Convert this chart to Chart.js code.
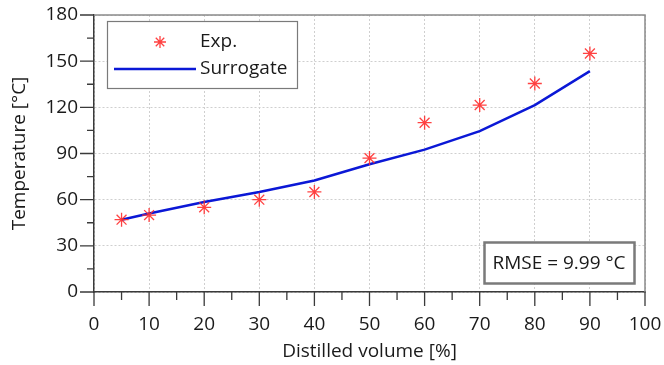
<!DOCTYPE html>
<html>
<head>
<meta charset="utf-8">
<script src="https://cdn.jsdelivr.net/npm/chart.js@4/dist/chart.umd.min.js"></script>
<style>
  html, body { margin: 0; padding: 0; background: #fff; }
  #wrap { width: 664px; height: 365px; }
</style>
</head>
<body>
<div id="wrap"><canvas id="chart" width="664" height="365"></canvas></div>
<script>
// Data
const volumes = [5, 10, 20, 30, 40, 50, 60, 70, 80, 90];
const expTemps = [47, 50, 55, 60, 65, 87, 110, 121.5, 135.5, 155];
const surrogateTemps = [47, 51, 58.5, 65, 72.5, 83, 92.5, 104.5, 121.5, 143.5];
const xTicks = [0, 10, 20, 30, 40, 50, 60, 70, 80, 90, 100];
const yTicks = [0, 30, 60, 90, 120, 150, 180];
const rmseText = 'RMSE = 9.99 °C';

const FONT = "'Open Sans', sans-serif";
const AXIS_COLOR = '#3a3a3a';
const EXP_COLOR = 'rgba(255, 45, 45, 0.9)';
const SURR_COLOR = '#0b18d6';

// draws the 8-armed star used for the Exp. markers
function drawStar(ctx, x, y, r) {
    ctx.save();
    ctx.strokeStyle = EXP_COLOR;
    ctx.lineWidth = 1.3;
    ctx.beginPath();
    for (let i = 0; i < 4; i++) {
        const a = i * Math.PI / 4;
        ctx.moveTo(x - r * Math.cos(a), y - r * Math.sin(a));
        ctx.lineTo(x + r * Math.cos(a), y + r * Math.sin(a));
    }
    ctx.stroke();
    ctx.restore();
}

// outward major/minor tick marks, top/right frame, legend and RMSE box
const decorations = {
    id: 'decorations',
    afterDraw(chart) {
        const ctx = chart.ctx;
        const area = chart.chartArea;
        const xs = chart.scales.x;
        const ys = chart.scales.y;

        ctx.save();
        // top and right frame
        ctx.strokeStyle = '#8a8a8a';
        ctx.lineWidth = 1.5;
        ctx.beginPath();
        ctx.moveTo(area.left, area.top);
        ctx.lineTo(area.right, area.top);
        ctx.lineTo(area.right, area.bottom);
        ctx.stroke();

        // tick marks
        ctx.strokeStyle = AXIS_COLOR;
        ctx.lineWidth = 1.3;
        ctx.beginPath();
        for (let v = 0; v <= 100; v += 5) {
            const px = xs.getPixelForValue(v);
            const len = v % 10 === 0 ? 14 : 8;
            ctx.moveTo(px, area.bottom);
            ctx.lineTo(px, area.bottom + len);
        }
        for (let v = 0; v <= 180; v += 15) {
            const py = ys.getPixelForValue(v);
            const len = v % 30 === 0 ? 14 : 7;
            ctx.moveTo(area.left, py);
            ctx.lineTo(area.left - len, py);
        }
        ctx.stroke();

        // legend box
        const lx = area.left + 13, ly = area.top + 6, lw = 190, lh = 67;
        ctx.fillStyle = '#fff';
        ctx.fillRect(lx, ly, lw, lh);
        ctx.strokeStyle = '#7a7a7a';
        ctx.lineWidth = 1.2;
        ctx.strokeRect(lx + 0.5, ly + 0.5, lw, lh);

        drawStar(ctx, lx + 53, ly + 21, 6);
        ctx.strokeStyle = SURR_COLOR;
        ctx.lineWidth = 2.5;
        ctx.beginPath();
        ctx.moveTo(lx + 7, ly + 48);
        ctx.lineTo(lx + 89, ly + 48);
        ctx.stroke();

        ctx.fillStyle = '#1a1a1a';
        ctx.font = '19px ' + FONT;
        ctx.textAlign = 'left';
        ctx.textBaseline = 'middle';
        ctx.fillText(chart.data.datasets[0].label, lx + 93, ly + 21);
        ctx.fillText(chart.data.datasets[1].label, lx + 93, ly + 48);

        // RMSE box
        const bx = area.right - 161, by = area.bottom - 50, bw = 150, bh = 41;
        ctx.fillStyle = '#fff';
        ctx.fillRect(bx, by, bw, bh);
        ctx.strokeStyle = '#7a7a7a';
        ctx.strokeRect(bx + 0.5, by + 0.5, bw, bh);
        ctx.fillStyle = '#1a1a1a';
        ctx.textAlign = 'center';
        ctx.fillText(rmseText, bx + bw / 2, by + bh / 2 + 1);
        ctx.restore();
    }
};

const ctx = document.getElementById('chart').getContext('2d');
const chart = new Chart(ctx, {
    type: 'line',
    data: {
        datasets: [
            {
                label: 'Exp.',
                data: volumes.map((v, i) => ({ x: v, y: expTemps[i] })),
                showLine: false,
                pointStyle: 'star',
                pointRadius: 7,
                pointBorderWidth: 1.3,
                pointBorderColor: EXP_COLOR,
                borderColor: EXP_COLOR,
                order: 0
            },
            {
                label: 'Surrogate',
                data: volumes.map((v, i) => ({ x: v, y: surrogateTemps[i] })),
                borderColor: SURR_COLOR,
                borderWidth: 2.5,
                pointRadius: 0,
                tension: 0,
                fill: false,
                order: 1
            }
        ]
    },
    options: {
        responsive: false,
        animation: false,
        layout: { padding: { top: 15, right: 19, left: 0, bottom: 0 } },
        plugins: {
            legend: { display: false },
            tooltip: { enabled: false }
        },
        scales: {
            x: {
                type: 'linear',
                min: 0,
                max: 100,
                afterBuildTicks: scale => { scale.ticks = xTicks.map(v => ({ value: v })); },
                afterFit: scale => {
                    scale.height = 73;
                    scale.paddingLeft = 0;
                    scale.paddingRight = 0;
                },
                ticks: { color: '#1a1a1a', font: { family: FONT, size: 19 }, padding: 21, maxRotation: 0 },
                grid: { color: '#cfcfcf', lineWidth: 1, drawTicks: false },
                border: { color: AXIS_COLOR, width: 1.5, dash: [2, 2] },
                title: {
                    display: true,
                    text: 'Distilled volume [%]',
                    color: '#1a1a1a',
                    font: { family: FONT, size: 19 },
                    padding: { top: 0, bottom: 2 }
                }
            },
            y: {
                type: 'linear',
                min: 0,
                max: 180,
                afterBuildTicks: scale => { scale.ticks = yTicks.map(v => ({ value: v })); },
                afterFit: scale => {
                    scale.width = 94;
                    scale.paddingTop = 0;
                    scale.paddingBottom = 0;
                },
                ticks: { color: '#1a1a1a', font: { family: FONT, size: 19 }, padding: 16 },
                grid: { color: '#cfcfcf', lineWidth: 1, drawTicks: false },
                border: { color: AXIS_COLOR, width: 1.5, dash: [2, 2] },
                title: {
                    display: true,
                    text: 'Temperature [°C]',
                    color: '#1a1a1a',
                    font: { family: FONT, size: 19 },
                    padding: { top: 8, bottom: 0 }
                }
            }
        }
    },
    plugins: [decorations]
});
</script>
</body>
</html>
